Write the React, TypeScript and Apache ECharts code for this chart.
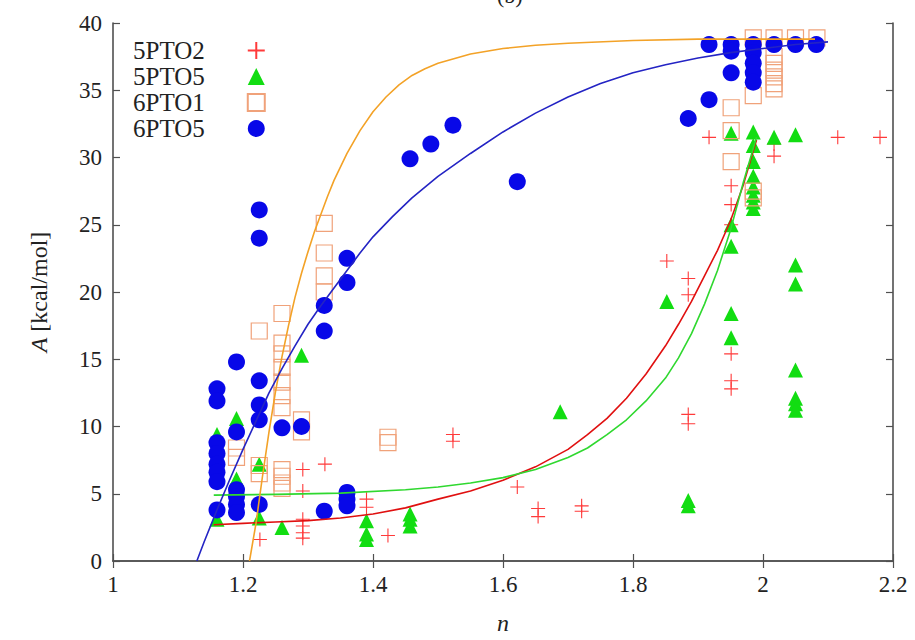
import React, { useEffect, useRef } from "react";
import * as echarts from "echarts";

const seriesNames = ["5PTO2", "5PTO5", "6PTO1", "6PTO5"];

const xMin = 1;
const xMax = 2.2;
const xStep = 0.2;
const yMin = 0;
const yMax = 40;
const yStep = 5;

// 5PTO2 (red plus)
const pto2_5: [number, number][] = [
  [1.226, 1.6],
  [1.292, 6.8], [1.292, 5.2], [1.292, 3.1], [1.292, 2.6], [1.292, 2.1], [1.292, 1.7],
  [1.326, 7.2],
  [1.39, 4.6], [1.39, 4.0],
  [1.423, 1.9],
  [1.523, 9.4], [1.523, 8.9],
  [1.622, 5.5],
  [1.654, 3.9], [1.654, 3.3],
  [1.721, 4.1], [1.721, 3.7],
  [1.852, 22.3],
  [1.885, 21.0], [1.885, 19.8], [1.885, 10.9], [1.885, 10.2],
  [1.917, 31.5],
  [1.951, 27.9], [1.951, 26.5], [1.951, 25.0], [1.951, 15.4], [1.951, 13.4], [1.951, 12.8],
  [2.017, 31.0], [2.017, 30.1],
  [2.115, 31.5], [2.18, 31.5],
];

// 5PTO5 (green triangles)
const pto5_5: [number, number][] = [
  [1.16, 9.4], [1.16, 3.1],
  [1.19, 10.6], [1.19, 6.1],
  [1.225, 7.2], [1.225, 3.2],
  [1.26, 2.5],
  [1.29, 15.3],
  [1.39, 3.0], [1.39, 2.0], [1.39, 1.6],
  [1.457, 3.5], [1.457, 3.1], [1.457, 2.6],
  [1.688, 11.1], [1.852, 19.3],
  [1.885, 4.5], [1.885, 4.1],
  [1.951, 31.8], [1.951, 25.0], [1.951, 23.4], [1.951, 18.4], [1.951, 16.6],
  [1.985, 31.9], [1.985, 30.9], [1.985, 29.7], [1.985, 28.6], [1.985, 27.8], [1.985, 27.2], [1.985, 26.7], [1.985, 26.2],
  [2.017, 31.5],
  [2.05, 31.7], [2.05, 22.0], [2.05, 20.6], [2.05, 14.2], [2.05, 12.1], [2.05, 11.7], [2.05, 11.2],
];

// 6PTO1 (orange open squares)
const pto1_6: [number, number][] = [
  [1.19, 8.4], [1.19, 7.7],
  [1.225, 17.1], [1.225, 7.1], [1.225, 6.5],
  [1.26, 18.4], [1.26, 16.2], [1.26, 15.4], [1.26, 14.4], [1.26, 13.3], [1.26, 12.3], [1.26, 11.4],
  [1.26, 6.8], [1.26, 6.3], [1.26, 5.8], [1.26, 5.4],
  [1.29, 10.5], [1.29, 9.6],
  [1.325, 25.1], [1.325, 22.9], [1.325, 21.2], [1.325, 20.0],
  [1.423, 9.2], [1.423, 8.8],
  [1.951, 33.7], [1.951, 32.0], [1.951, 29.7],
  [1.985, 38.9], [1.985, 34.6], [1.985, 27.5], [1.985, 27.0],
  [2.017, 38.9], [2.017, 37.5], [2.017, 37.0], [2.017, 36.5], [2.017, 36.0], [2.017, 35.5], [2.017, 35.1],
  [2.05, 38.9], [2.083, 38.9],
];

// 6PTO5 (blue filled circles)
const pto5_6: [number, number][] = [
  [1.16, 12.8], [1.16, 11.9], [1.16, 8.8], [1.16, 8.0], [1.16, 7.2], [1.16, 6.6], [1.16, 5.9], [1.16, 3.8],
  [1.19, 14.8], [1.19, 9.6], [1.19, 5.3], [1.19, 4.8], [1.19, 4.2], [1.19, 3.6],
  [1.225, 26.1], [1.225, 24.0], [1.225, 13.4], [1.225, 11.6], [1.225, 10.5], [1.225, 4.2],
  [1.26, 9.9], [1.29, 10.0],
  [1.325, 19.0], [1.325, 17.1], [1.325, 3.7],
  [1.36, 22.5], [1.36, 20.7], [1.36, 5.1], [1.36, 4.6], [1.36, 4.1],
  [1.457, 29.9], [1.489, 31.0], [1.523, 32.4], [1.622, 28.2],
  [1.885, 32.9], [1.917, 34.3], [1.917, 38.4],
  [1.951, 38.4], [1.951, 37.9], [1.951, 36.3],
  [1.985, 38.4], [1.985, 37.8], [1.985, 37.0], [1.985, 36.3], [1.985, 35.6],
  [2.017, 38.4], [2.05, 38.4], [2.082, 38.4],
];

// fitted curves
const fit5PTO2: [number, number][] = [
  [1.155, 2.7], [1.2, 2.8], [1.25, 2.9], [1.3, 3.0], [1.35, 3.2], [1.4, 3.5], [1.45, 3.95],
  [1.5, 4.6], [1.55, 5.2], [1.6, 6.0], [1.65, 7.0], [1.7, 8.3], [1.73, 9.4], [1.76, 10.6],
  [1.79, 12.1], [1.82, 13.9], [1.85, 16.0], [1.87, 17.6], [1.89, 19.3], [1.91, 21.2],
  [1.93, 23.1], [1.95, 25.3], [1.97, 28.0], [1.99, 31.3],
];
const fit5PTO5: [number, number][] = [
  [1.155, 4.9], [1.25, 4.95], [1.35, 5.05], [1.45, 5.3], [1.5, 5.5], [1.55, 5.8], [1.6, 6.2],
  [1.65, 6.8], [1.7, 7.7], [1.73, 8.4], [1.76, 9.4], [1.79, 10.5], [1.82, 11.9], [1.85, 13.6],
  [1.87, 15.1], [1.89, 16.9], [1.91, 19.1], [1.93, 21.6], [1.95, 24.6], [1.97, 28.2], [1.99, 31.5],
];
const fit6PTO1: [number, number][] = [
  [1.21, 0], [1.22, 2.8], [1.23, 6.3], [1.24, 9.6], [1.25, 12.6], [1.26, 15.2], [1.27, 17.5],
  [1.28, 19.6], [1.29, 21.4], [1.3, 23.0], [1.31, 24.5], [1.32, 25.8], [1.33, 27.1], [1.34, 28.3],
  [1.36, 30.3], [1.38, 32.0], [1.4, 33.4], [1.42, 34.5], [1.44, 35.4], [1.46, 36.1], [1.48, 36.6],
  [1.5, 37.0], [1.55, 37.7], [1.6, 38.1], [1.65, 38.35], [1.7, 38.5], [1.8, 38.7], [1.9, 38.8],
  [2.0, 38.8], [2.08, 38.8],
];
const fit6PTO5: [number, number][] = [
  [1.129, 0], [1.14, 1.4], [1.16, 3.8], [1.18, 6.1], [1.2, 8.3], [1.22, 10.4], [1.24, 12.5],
  [1.26, 14.3], [1.28, 16.0], [1.3, 17.6], [1.32, 19.0], [1.34, 20.3], [1.36, 21.6], [1.38, 22.9],
  [1.4, 24.1], [1.43, 25.6], [1.46, 27.0], [1.5, 28.6], [1.55, 30.3], [1.6, 31.9], [1.65, 33.3],
  [1.7, 34.5], [1.75, 35.5], [1.8, 36.3], [1.85, 36.9], [1.9, 37.4], [1.95, 37.8], [2.0, 38.1],
  [2.05, 38.4], [2.1, 38.6],
];

const FONT = "Liberation Serif";
const AXIS_COLOR = "#505050";
const TEXT_COLOR = "#222222";

const RED_PT = "#ff3a3a";
const RED_LINE = "#e01010";
const GREEN_PT = "#12dd12";
const GREEN_LINE = "#2fd82f";
const ORANGE_PT = "#f0a27a";
const ORANGE_LINE = "#f3a227";
const BLUE_PT = "#0808e8";
const BLUE_LINE = "#2424c4";

const PLUS = "path://M0,7L14,7M7,0L7,14";

function fmtX(v: number) {
  return String(Math.round(v * 10) / 10);
}

export default function App() {
  const ref = useRef<HTMLDivElement>(null);

  useEffect(() => {
    const chart = echarts.init(ref.current!, null, { renderer: "svg" });

    const tickStyle = {
      inside: true,
      length: 7,
      lineStyle: { color: AXIS_COLOR, width: 1.2 },
    };
    const axisLine = { show: true, lineStyle: { color: AXIS_COLOR, width: 1.6 } };

    const fitLine = (data: [number, number][], color: string) => ({
      type: "line",
      data,
      smooth: false,
      showSymbol: false,
      symbol: "none",
      silent: true,
      lineStyle: { color, width: 1.6, join: "round" },
      z: 3,
    });

    chart.setOption({
      animation: false,
      backgroundColor: "#ffffff",
      textStyle: { fontFamily: FONT },
      grid: { left: 113, right: 22, top: 23, bottom: 75, containLabel: false },
      graphic: [
        {
          type: "text",
          left: 497,
          top: -16,
          style: { text: "(b)", font: `22px "${FONT}"`, fill: TEXT_COLOR },
        },
      ],
      legend: {
        orient: "vertical",
        left: 128,
        top: 33,
        align: "right",
        itemGap: 1,
        itemWidth: 17,
        itemHeight: 17,
        selectedMode: false,
        data: seriesNames,
        textStyle: {
          fontFamily: FONT,
          fontSize: 25,
          color: TEXT_COLOR,
          lineHeight: 25,
          padding: [0, 38, 0, 0],
        },
      },
      xAxis: [
        {
          type: "value",
          min: xMin,
          max: xMax,
          interval: xStep,
          position: "bottom",
          axisLine,
          axisTick: tickStyle,
          splitLine: { show: false },
          axisLabel: {
            formatter: fmtX,
            fontFamily: FONT,
            fontSize: 23,
            color: TEXT_COLOR,
            margin: 12,
          },
          name: "{i|n}",
          nameLocation: "middle",
          nameGap: 50,
          nameTextStyle: {
            rich: { i: { fontFamily: FONT, fontSize: 24, fontStyle: "italic", color: TEXT_COLOR } },
          },
        },
        {
          type: "value",
          min: xMin,
          max: xMax,
          interval: xStep,
          position: "top",
          axisLine,
          axisTick: tickStyle,
          axisLabel: { show: false },
          splitLine: { show: false },
        },
      ],
      yAxis: [
        {
          type: "value",
          min: yMin,
          max: yMax,
          interval: yStep,
          position: "left",
          axisLine,
          axisTick: tickStyle,
          splitLine: { show: false },
          axisLabel: {
            fontFamily: FONT,
            fontSize: 23,
            color: TEXT_COLOR,
            margin: 11,
          },
          name: "{i|A}{r| [kcal/mol]}",
          nameLocation: "middle",
          nameGap: 62,
          nameRotate: 90,
          nameTextStyle: {
            fontFamily: FONT,
            fontSize: 24,
            color: TEXT_COLOR,
            rich: {
              i: { fontFamily: FONT, fontSize: 24, fontStyle: "italic", color: TEXT_COLOR },
              r: { fontFamily: FONT, fontSize: 24, color: TEXT_COLOR },
            },
          },
        },
        {
          type: "value",
          min: yMin,
          max: yMax,
          interval: yStep,
          position: "right",
          axisLine,
          axisTick: tickStyle,
          axisLabel: { show: false },
          splitLine: { show: false },
        },
      ],
      series: [
        {
          name: seriesNames[0],
          type: "scatter",
          data: pto2_5,
          symbol: PLUS,
          symbolSize: 14,
          itemStyle: { color: RED_PT, borderColor: RED_PT, borderWidth: 1.1, opacity: 1 },
          z: 2,
        },
        {
          name: seriesNames[1],
          type: "scatter",
          data: pto5_5,
          symbol: "triangle",
          symbolSize: 15,
          itemStyle: { color: GREEN_PT, opacity: 1 },
          z: 2,
        },
        {
          name: seriesNames[2],
          type: "scatter",
          data: pto1_6,
          symbol: "rect",
          symbolSize: 16,
          itemStyle: {
            color: "rgba(255,255,255,0)",
            borderColor: ORANGE_PT,
            borderWidth: 1.2,
            opacity: 1,
          },
          z: 2,
        },
        {
          name: seriesNames[3],
          type: "scatter",
          data: pto5_6,
          symbol: "circle",
          symbolSize: 17,
          itemStyle: { color: BLUE_PT, opacity: 1 },
          z: 2,
        },
        fitLine(fit5PTO2, RED_LINE),
        fitLine(fit5PTO5, GREEN_LINE),
        fitLine(fit6PTO1, ORANGE_LINE),
        fitLine(fit6PTO5, BLUE_LINE),
      ],
    });

    return () => chart.dispose();
  }, []);

  return (
    <div
      ref={ref}
      style={{
        position: "fixed",
        left: 0,
        top: 0,
        width: 915,
        height: 640,
        background: "#ffffff",
      }}
    />
  );
}
